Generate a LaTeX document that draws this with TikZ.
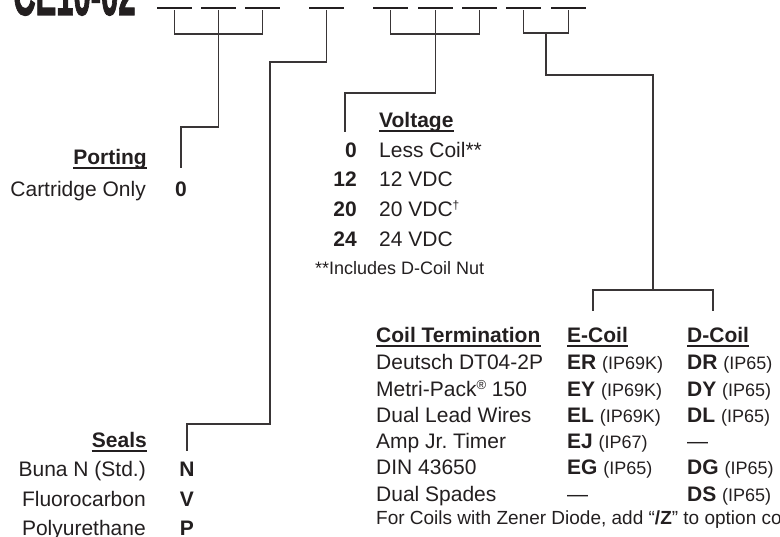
\documentclass[tikz,border=0pt]{standalone}
\usepackage{fontspec}
\setmainfont{Liberation Sans}
\newfontfamily\titlefont{Liberation Sans Bold}[FakeBold=2]
\definecolor{ink}{HTML}{231F20}
\frenchspacing
\begin{document}
\begin{tikzpicture}[x=1pt,y=-1pt,
  conn/.style={line width=1.4pt, draw=ink!90},
  blank/.style={line width=1.8pt, draw=ink},
  txt/.style={inner sep=0pt, text=ink, font=\fontsize{21}{25}\selectfont},
  bold/.style={inner sep=0pt, text=ink, font=\fontsize{21}{25}\selectfont\bfseries},
  sm/.style={inner sep=0pt, text=ink, font=\fontsize{18}{22}\selectfont},
  uline/.style={line width=1.3pt, draw=ink}
]
\useasboundingbox (0,0) rectangle (780,537);

% title (cut at top)
\node[inner sep=0pt, text=ink, anchor=base west, font=\fontsize{62}{62}\titlefont] (title) at (13,15) {\scalebox{0.5}[1]{CE10-02}};

% blanks
\foreach \i/\x in {1/157,2/201,3/245,4/309,5/373,6/418,7/462,8/506,9/551}{
  \coordinate (bk\i) at (\x+17.5,10);
  \draw[blank] (\x,8) -- (\x+35,8);
}

% turning points and free ends
\coordinate (pturn) at (181,127);
\coordinate (pend) at (181,168);
\coordinate (sa) at (270,62);
\coordinate (sb) at (187,424);
\coordinate (send) at (187,451);
\coordinate (va) at (345,93);
\coordinate (vend) at (345,132);
\coordinate (m4) at (546,33);
\coordinate (ca) at (653,75);
\coordinate (cb) at (653,290);
\coordinate (cE) at (593,311);
\coordinate (cD) at (713,311);

% group 1 : porting
\draw[conn] (bk1) -- ++(0,24) -| (bk3);
\draw[conn] (bk2) -- (bk2 |- pturn) -| (pend);
% group 2 : seals
\draw[conn] (bk4) |- (sa) |- (sb) -- (send);
% group 3 : voltage
\draw[conn] (bk5) -- ++(0,24) -| (bk7);
\draw[conn] (bk6) |- (va) -- (vend);
% group 4 : coil
\draw[conn] (bk8) -- ++(0,23) -| (bk9);
\draw[conn] (m4) |- (ca) -- (cb);
\draw[conn] (cE) |- (cb) -| (cD);

% Porting
\node[bold, anchor=base east] (porth) at (147,165) {Porting};
\draw[uline] ([yshift=-3pt]porth.base west) -- ([yshift=-3pt]porth.base east);
\node[txt, anchor=base east] (portl) at (146,197) {Cartridge Only};
\node[bold, anchor=base] (portv) at (181,197) {0};

% Voltage
\node[bold, anchor=base west] (volth) at (379,128) {Voltage};
\draw[uline] ([yshift=-3pt]volth.base west) -- ([yshift=-3pt]volth.base east);
\node[bold, anchor=base east] (v0) at (357,158) {0};
\node[txt, anchor=base west] (v0l) at (379,158) {Less Coil**};
\node[bold, anchor=base east] (v12) at (357,187) {12};
\node[txt, anchor=base west] (v12l) at (379,187) {12 VDC};
\node[bold, anchor=base east] (v20) at (357,217) {20};
\node[txt, anchor=base west] (v20l) at (379,217) {20 VDC\raisebox{7pt}{\fontsize{12}{12}\selectfont †}};
\node[bold, anchor=base east] (v24) at (357,247) {24};
\node[txt, anchor=base west] (v24l) at (379,247) {24 VDC};
\node[sm, anchor=base west] (vnote) at (315,275) {**Includes D-Coil Nut};

% Seals
\node[bold, anchor=base east] (sealh) at (147,448) {Seals};
\draw[uline] ([yshift=-3pt]sealh.base west) -- ([yshift=-3pt]sealh.base east);
\node[txt, anchor=base east] (s1) at (146,477) {Buna N (Std.)};
\node[bold, anchor=base] (s1v) at (187,477) {N};
\node[txt, anchor=base east] (s2) at (146,507) {Fluorocarbon};
\node[bold, anchor=base] (s2v) at (187,507) {V};
\node[txt, anchor=base east] (s3) at (146,536) {Polyurethane};
\node[bold, anchor=base] (s3v) at (187,536) {P};

% Coil termination
\node[bold, anchor=base west] (coilh) at (376,343) {Coil Termination};
\draw[uline] ([yshift=-3pt]coilh.base west) -- ([yshift=-3pt]coilh.base east);
\node[bold, anchor=base west] (eh) at (567,343) {E-Coil};
\draw[uline] ([yshift=-3pt]eh.base west) -- ([yshift=-3pt]eh.base east);
\node[bold, anchor=base west] (dh) at (687,343) {D-Coil};
\draw[uline] ([yshift=-3pt]dh.base west) -- ([yshift=-3pt]dh.base east);

\newcommand{\ip}[1]{{\fontsize{18}{22}\selectfont\mdseries (#1)}}
\foreach \n/\y/\lab/\e/\d in {
  1/370/{Deutsch DT04-2P}/{\textbf{ER} \ip{IP69K}}/{\textbf{DR} \ip{IP65}},
  2/397/{Metri-Pack\raisebox{7pt}{\fontsize{13}{13}\selectfont ®} 150}/{\textbf{EY} \ip{IP69K}}/{\textbf{DY} \ip{IP65}},
  3/423/{Dual Lead Wires}/{\textbf{EL} \ip{IP69K}}/{\textbf{DL} \ip{IP65}},
  4/449/{Amp Jr. Timer}/{\textbf{EJ} \ip{IP67}}/{—},
  5/475/{DIN 43650}/{\textbf{EG} \ip{IP65}}/{\textbf{DG} \ip{IP65}},
  6/502/{Dual Spades}/{—}/{\textbf{DS} \ip{IP65}}}{
  \node[txt, anchor=base west] (ct\n) at (376,\y) {\lab};
  \node[txt, anchor=base west] (ce\n) at (567,\y) {\e};
  \node[txt, anchor=base west] (cd\n) at (687,\y) {\d};
}
\node[sm, anchor=base west, font=\fontsize{19}{23}\selectfont] (cnote) at (376,525) {For Coils with Zener Diode, add “\textbf{/Z}” to option code.};
\end{tikzpicture}
\end{document}
